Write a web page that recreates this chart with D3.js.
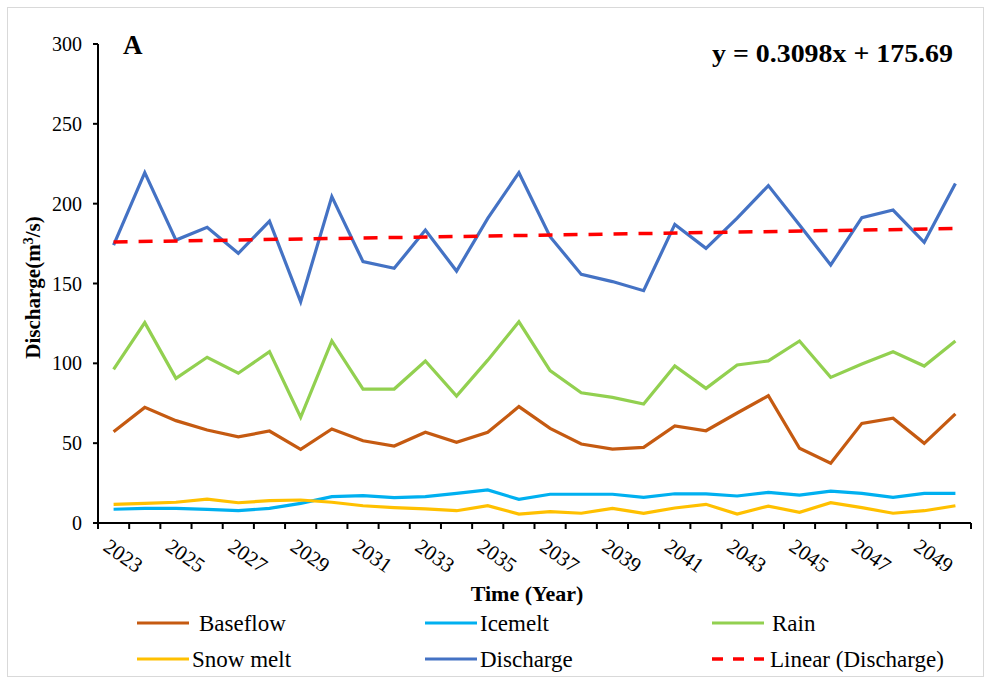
<!DOCTYPE html>
<html>
<head>
<meta charset="utf-8">
<script src="https://cdn.jsdelivr.net/npm/d3@7"></script>
<style>
  body { margin: 0; background: #fff; }
  text { font-family: "Liberation Serif", "Times New Roman", serif; fill: #000; }
</style>
</head>
<body>
<svg id="chart" width="990" height="683"></svg>
<script>
// years on the category axis
let years = d3.range(2023, 2051)

// series values (m3/s)
let baseflow = [57.2, 72.4, 64.1, 58.2, 54.0, 57.6, 46.1, 58.9, 51.5, 48.2, 56.8, 50.5, 56.8, 72.9,
                59.3, 49.5, 46.3, 47.4, 60.8, 57.8, 68.9, 79.7, 46.8, 37.4, 62.4, 65.6, 49.9, 68.3]
let icemelt = [8.6, 9.2, 9.2, 8.5, 7.7, 9.2, 12.3, 16.5, 17.1, 15.9, 16.5, 18.6, 20.7, 14.8,
               18.0, 18.0, 18.0, 16.1, 18.3, 18.3, 16.9, 19.2, 17.5, 20.0, 18.6, 16.1, 18.6, 18.6]
let rain = [96.2, 125.5, 90.6, 103.8, 93.8, 107.3, 66.2, 114.0, 83.9, 83.9, 101.5, 79.5, 102.0, 126.0,
            95.4, 81.6, 78.7, 74.5, 98.3, 84.3, 99.0, 101.5, 114.0, 91.2, 99.6, 107.3, 98.3, 114.0]
let snowmelt = [11.7, 12.3, 13.0, 15.0, 12.7, 14.0, 14.4, 13.0, 10.8, 9.6, 8.8, 7.7, 10.8, 5.6,
                7.1, 6.1, 9.2, 6.1, 9.4, 11.7, 5.6, 10.6, 6.7, 12.7, 9.6, 6.1, 7.7, 10.8]
let discharge = [174.0, 219.4, 177.2, 185.2, 168.9, 189.1, 138.6, 204.4, 163.7, 159.5, 183.5, 157.8, 190.8, 219.4,
                 179.3, 155.7, 151.2, 145.5, 187.0, 172.0, 191.0, 211.3, 186.7, 161.6, 191.2, 196.0, 175.8, 212.7]
// linear trend (Discharge), end values at first and last year
let trend = [176.0, 184.4]
let yTicks = [0, 50, 100, 150, 200, 250, 300]

let series = [
  {name: "Baseflow", values: baseflow, color: "#C55A11"},
  {name: "Icemelt", values: icemelt, color: "#00B0F0"},
  {name: "Rain", values: rain, color: "#92D050"},
  {name: "Snow melt", values: snowmelt, color: "#FFC000"},
  {name: "Discharge", values: discharge, color: "#4472C4"}
]

let width = 990,
    height = 683,
    margins = {left: 98, right: 19, top: 44, bottom: 160}

let svg = d3.select("#chart")

// light frame round the figure
svg.append("rect")
  .attr("x", 7.5).attr("y", 7.5)
  .attr("width", 976).attr("height", 669)
  .attr("fill", "none")
  .attr("stroke", "#d9d9d9")
  .attr("stroke-width", 1)

let x = d3.scalePoint()
  .domain(years)
  .range([margins.left, width - margins.right])
  .padding(0.5)

let y = d3.scaleLinear()
  .domain([0, 300])
  .range([height - margins.bottom, margins.top])

let step = x.step()
let y0 = y(0)

// x axis (ticks between categories)
let xAxis = svg.append("g").attr("id", "x_axis")
xAxis.append("line")
  .attr("x1", margins.left).attr("x2", width - margins.right)
  .attr("y1", y0).attr("y2", y0)
  .attr("stroke", "#000").attr("stroke-width", 2)
let tickPos = years.map(d => x(d) - step / 2).concat([x(years[years.length - 1]) + step / 2])
xAxis.selectAll(".tick")
  .data(tickPos).enter()
  .append("line")
  .attr("x1", d => d).attr("x2", d => d)
  .attr("y1", y0).attr("y2", y0 + 6)
  .attr("stroke", "#000").attr("stroke-width", 2)
xAxis.selectAll(".lab")
  .data(years.filter((d, i) => i % 2 == 0)).enter()
  .append("text")
  .attr("transform", d => `translate(${x(d) - 3},${y0 + 14}) rotate(35)`)
  .attr("dy", "0.72em")
  .attr("font-size", 21)
  .text(d => d)

// y axis
let yAxis = svg.append("g").attr("id", "y_axis")
yAxis.append("line")
  .attr("x1", margins.left).attr("x2", margins.left)
  .attr("y1", y(0)).attr("y2", y(300))
  .attr("stroke", "#000").attr("stroke-width", 2)
yAxis.selectAll(".tick")
  .data(yTicks).enter()
  .append("line")
  .attr("x1", margins.left - 5).attr("x2", margins.left)
  .attr("y1", d => y(d)).attr("y2", d => y(d))
  .attr("stroke", "#000").attr("stroke-width", 2)
yAxis.selectAll(".lab")
  .data(yTicks).enter()
  .append("text")
  .attr("x", margins.left - 16)
  .attr("y", d => y(d))
  .attr("dy", "0.35em")
  .attr("text-anchor", "end")
  .attr("font-size", 20)
  .text(d => d)

// lines
let line = d3.line()
  .x((d, i) => x(years[i]))
  .y(d => y(d))

svg.append("g").attr("id", "lines")
  .selectAll("path")
  .data(series).enter()
  .append("path")
  .attr("d", d => line(d.values))
  .attr("fill", "none")
  .attr("stroke", d => d.color)
  .attr("stroke-width", 3.2)
  .attr("stroke-linejoin", "miter")

svg.append("line")
  .attr("x1", x(years[0])).attr("x2", x(years[years.length - 1]))
  .attr("y1", y(trend[0])).attr("y2", y(trend[1]))
  .attr("stroke", "#FF0000")
  .attr("stroke-width", 3.5)
  .attr("stroke-dasharray", "14 11")

// texts
svg.append("text")
  .attr("x", 123).attr("y", 54)
  .attr("font-size", 27).attr("font-weight", "bold")
  .text("A")

svg.append("text")
  .attr("x", 712).attr("y", 62)
  .attr("font-size", 26).attr("font-weight", "bold")
  .attr("textLength", 241)
  .attr("lengthAdjust", "spacingAndGlyphs")
  .text("y = 0.3098x + 175.69")

svg.append("text")
  .attr("transform", `translate(40,${(y(0) + y(300)) / 2 + 4}) rotate(-90)`)
  .attr("text-anchor", "middle")
  .attr("font-size", 21).attr("font-weight", "bold")
  .html("Discharge(m<tspan dy='-7' font-size='14'>3</tspan><tspan dy='7'>/s)</tspan>")

svg.append("text")
  .attr("x", 527).attr("y", 601)
  .attr("text-anchor", "middle")
  .attr("font-size", 22).attr("font-weight", "bold")
  .text("Time (Year)")

// legend
let legend = [
  {name: "Baseflow", color: "#C55A11", lx: 137, ly: 623, tx: 199},
  {name: "Icemelt", color: "#00B0F0", lx: 425, ly: 623, tx: 480},
  {name: "Rain", color: "#92D050", lx: 712, ly: 623, tx: 772},
  {name: "Snow melt", color: "#FFC000", lx: 137, ly: 659, tx: 192},
  {name: "Discharge", color: "#4472C4", lx: 425, ly: 659, tx: 480},
  {name: "Linear (Discharge)", color: "#FF0000", lx: 712, ly: 659, tx: 770, dash: true}
]
let lg = svg.append("g").attr("id", "legend")
lg.selectAll("line")
  .data(legend).enter()
  .append("line")
  .attr("x1", d => d.lx).attr("x2", d => d.lx + 52)
  .attr("y1", d => d.ly).attr("y2", d => d.ly)
  .attr("stroke", d => d.color)
  .attr("stroke-width", d => d.dash ? 3.5 : 3.2)
  .attr("stroke-dasharray", d => d.dash ? "11 10" : null)
lg.selectAll("text")
  .data(legend).enter()
  .append("text")
  .attr("x", d => d.tx).attr("y", d => d.ly)
  .attr("dy", "0.33em")
  .attr("font-size", 23)
  .text(d => d.name)
</script>
</body>
</html>
